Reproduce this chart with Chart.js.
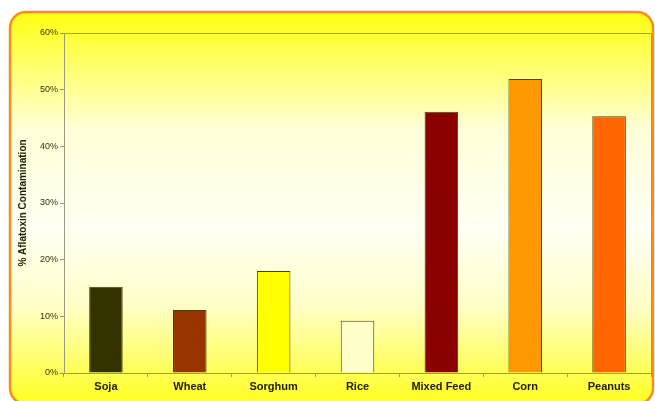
<!DOCTYPE html>
<html>
<head>
<meta charset="utf-8">
<script src="https://cdn.jsdelivr.net/npm/chart.js@4.4.1/dist/chart.umd.min.js"></script>
<style>
  html, body { margin: 0; padding: 0; background: #ffffff; }
  #wrap { width: 655px; height: 401px; position: relative; }
</style>
</head>
<body>
<div id="wrap"><canvas id="chart"></canvas></div>
<script>
const categories = ['Soja', 'Wheat', 'Sorghum', 'Rice', 'Mixed Feed', 'Corn', 'Peanuts'];
const contamination = [15.2, 11.1, 18.0, 9.2, 46.1, 51.9, 45.3];
const barColors = ['#333300', '#993300', '#ffff00', '#ffffcc', '#8b0000', '#ff9900', '#ff6600'];
const yTicks = [0, 10, 20, 30, 40, 50, 60];

// rounded yellow panel behind everything
const panelPlugin = {
    id: 'panel',
    beforeDraw(chart) {
        const ctx = chart.ctx;
        const x = 10, y = 12, w = 643, h = 392, r = 16;
        const grad = ctx.createLinearGradient(0, y, 0, y + h);
        grad.addColorStop(0, '#ffff10');
        grad.addColorStop(0.3, '#ffffd8');
        grad.addColorStop(0.55, '#fffff4');
        grad.addColorStop(0.75, '#ffffc8');
        grad.addColorStop(1, '#ffff20');
        ctx.save();
        ctx.beginPath();
        ctx.roundRect(x, y, w, h, r);
        ctx.fillStyle = grad;
        ctx.fill();
        ctx.lineWidth = 2.5;
        ctx.strokeStyle = '#ff8c1a';
        ctx.stroke();
        ctx.restore();
    },
    afterDatasetsDraw(chart) {
        const ctx = chart.ctx;
        const a = chart.chartArea;
        ctx.save();
        ctx.strokeStyle = '#999980';
        ctx.lineWidth = 1;
        ctx.beginPath();
        ctx.moveTo(a.left, a.top + 0.5);
        ctx.lineTo(a.right + 0.5, a.top + 0.5);
        ctx.lineTo(a.right + 0.5, a.bottom);
        ctx.stroke();
        ctx.restore();
    }
};

new Chart(document.getElementById('chart'), {
    type: 'bar',
    data: {
        labels: categories,
        datasets: [{
            data: contamination,
            backgroundColor: barColors,
            borderColor: '#4d4000',
            borderWidth: 1,
            barPercentage: 0.4,
            categoryPercentage: 1
        }]
    },
    options: {
        responsive: true,
        maintainAspectRatio: false,
        animation: false,
        layout: { padding: { left: 17, top: 33, right: 4, bottom: 0 } },
        plugins: {
            legend: { display: false },
            tooltip: { enabled: false }
        },
        scales: {
            x: {
                grid: { drawOnChartArea: false, tickLength: 4, color: '#999980' },
                border: { color: '#999980', width: 1 },
                ticks: {
                    color: '#222200',
                    font: { family: 'Liberation Sans, Arial', size: 11, weight: 'bold' },
                    padding: 3
                },
                afterFit(scale) { scale.height = 28; }
            },
            y: {
                min: 0,
                max: 60,
                afterBuildTicks(scale) { scale.ticks = yTicks.map(v => ({ value: v })); },
                grid: { drawOnChartArea: false, tickLength: 4, color: '#999980' },
                border: { color: '#999980', width: 1 },
                ticks: {
                    color: '#333300',
                    font: { family: 'Liberation Sans, Arial', size: 9 },
                    padding: 2,
                    callback: v => v + '%'
                },
                title: {
                    display: true,
                    text: '% Aflatoxin Contamination',
                    color: '#222200',
                    font: { family: 'Liberation Sans, Arial', size: 10, weight: 'bold' },
                    padding: 0
                },
                afterFit(scale) { scale.width = 47; }
            }
        }
    },
    plugins: [panelPlugin]
});
</script>
</body>
</html>
